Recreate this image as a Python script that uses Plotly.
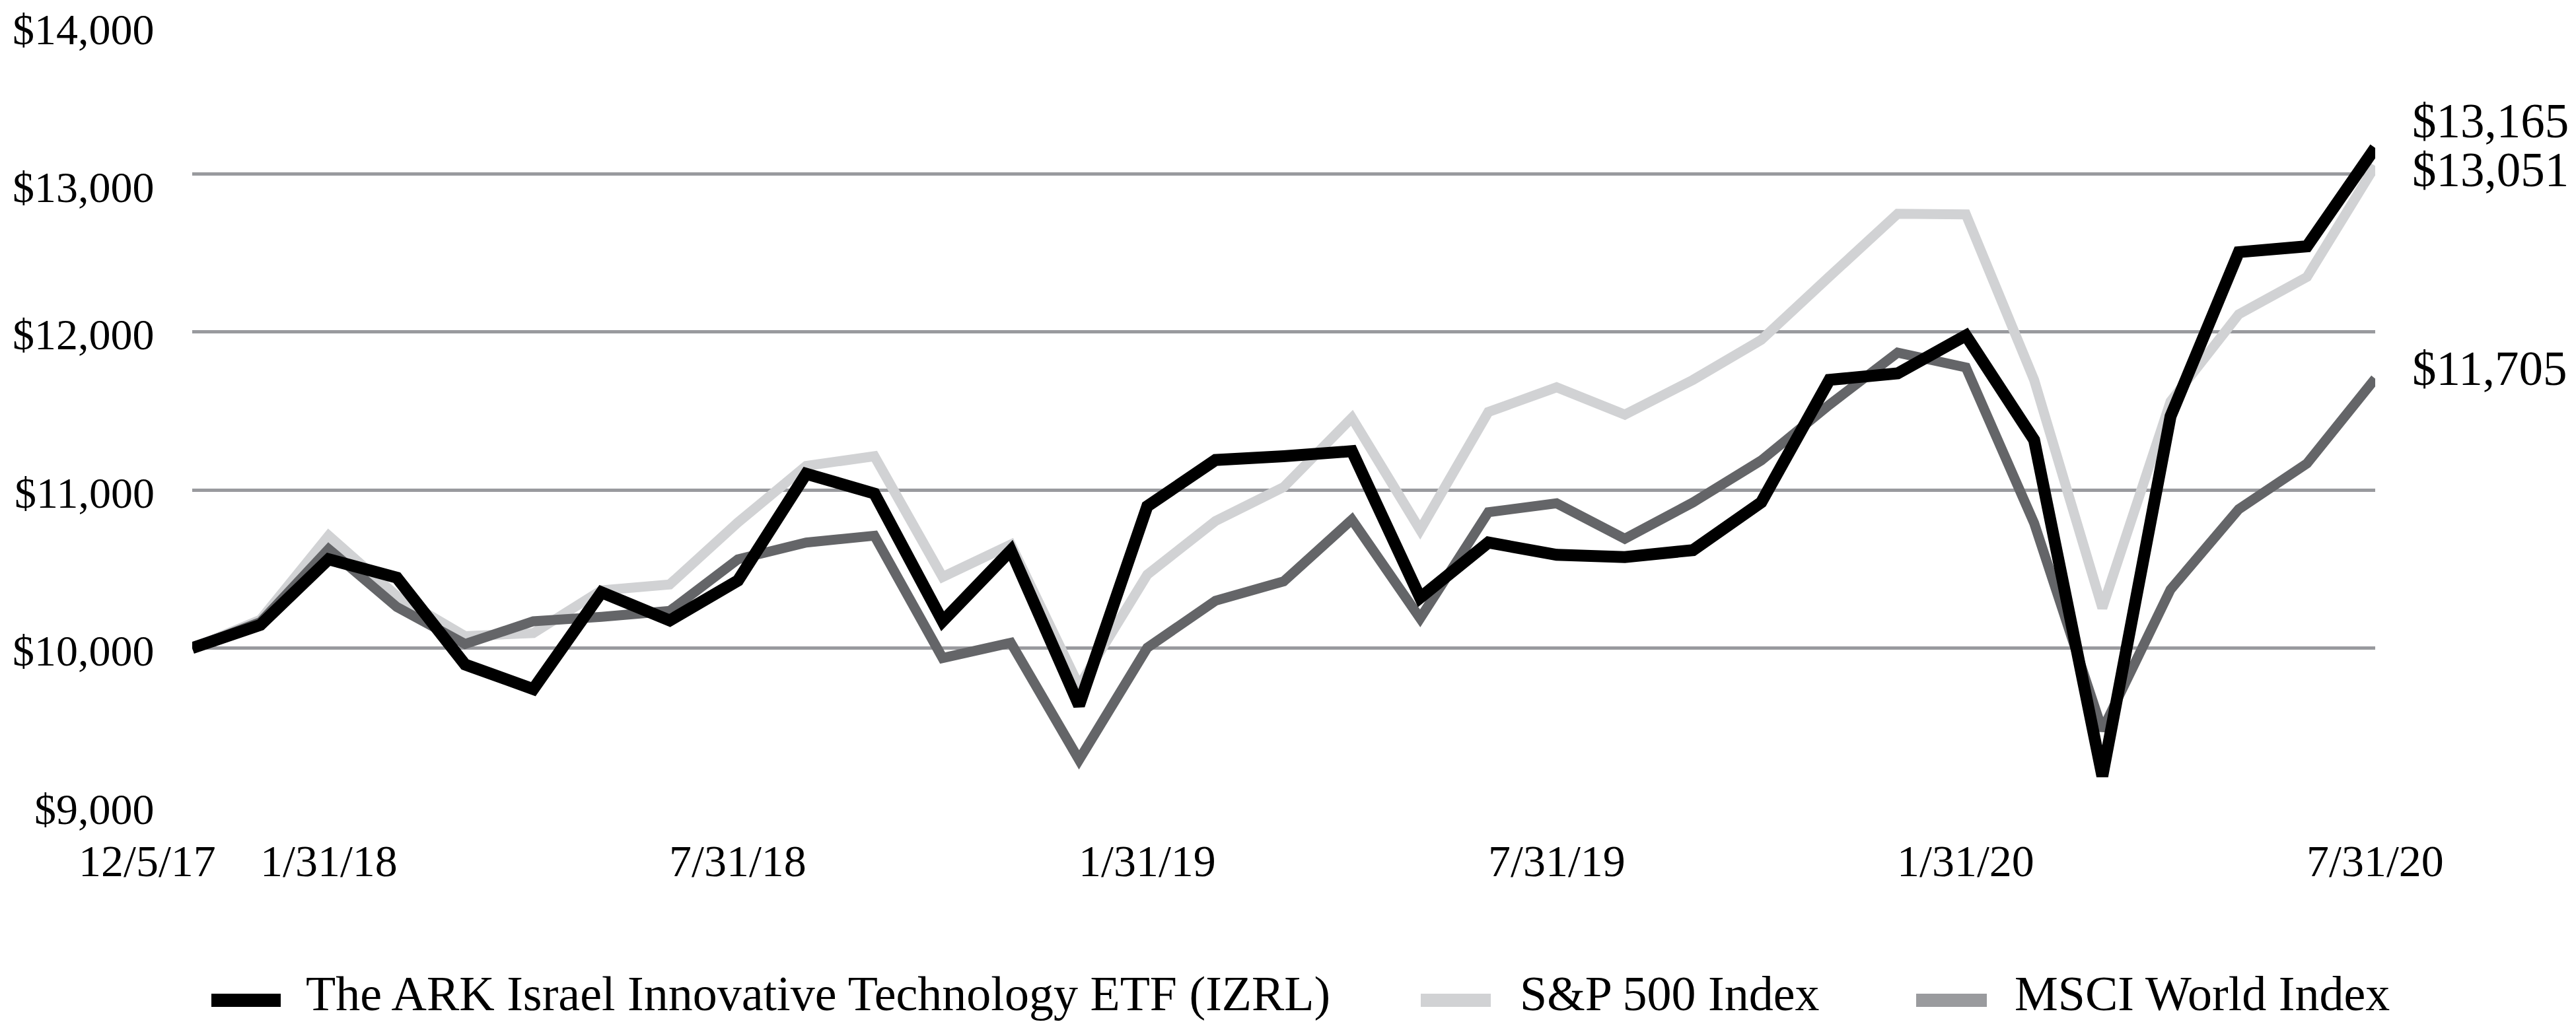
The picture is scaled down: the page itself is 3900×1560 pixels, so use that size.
import plotly.graph_objects as go

# ---------------- data ----------------
dates = ["12/5/17", "12/31/17", "1/31/18", "2/28/18", "3/31/18", "4/30/18", "5/31/18",
         "6/30/18", "7/31/18", "8/31/18", "9/30/18", "10/31/18", "11/30/18", "12/31/18",
         "1/31/19", "2/28/19", "3/31/19", "4/30/19", "5/31/19", "6/30/19", "7/31/19",
         "8/31/19", "9/30/19", "10/31/19", "11/30/19", "12/31/19", "1/31/20", "2/29/20",
         "3/31/20", "4/30/20", "5/31/20", "6/30/20", "7/31/20"]

izrl = [10000, 10147, 10562, 10446, 9896, 9741, 10353, 10175, 10427, 11103, 10978,
        10170, 10618, 9638, 10897, 11190, 11214, 11246, 10319, 10668, 10590, 10576,
        10620, 10922, 11697, 11738, 11978, 11317, 9190, 11466, 12505, 12542, 13165]

sp500 = [10000, 10179, 10711, 10330, 10076, 10095, 10366, 10403, 10795, 11153, 11214,
         10450, 10655, 9760, 10465, 10804, 11019, 11457, 10748, 11494, 11650, 11477,
         11697, 11950, 12351, 12748, 12744, 11697, 10254, 11560, 12112, 12348, 13051]

msci = [10000, 10164, 10627, 10260, 10026, 10170, 10198, 10235, 10562, 10668, 10711,
        9937, 10034, 9293, 10002, 10300, 10422, 10813, 10188, 10860, 10916, 10692,
        10922, 11187, 11540, 11869, 11776, 10791, 9480, 10371, 10879, 11168, 11705]

series_names = ["The ARK Israel Innovative Technology ETF (IZRL)", "S&P 500 Index", "MSCI World Index"]
x_tick_labels = ["12/5/17", "1/31/18", "7/31/18", "1/31/19", "7/31/19", "1/31/20", "7/31/20"]
y_tick_vals = [9000, 10000, 11000, 12000, 13000, 14000]
y_tick_text = ["$9,000", "$10,000", "$11,000", "$12,000", "$13,000", "$14,000"]
end_labels = ["$13,165", "$13,051", "$11,705"]

# ---------------- style ----------------
W, H = 3900, 1560
ML, MR, MT, MB = 283, 312, 16, 347
FONT = "Liberation Serif"
C_IZRL, C_SP, C_MSCI = "#000000", "#d1d2d4", "#646568"
C_MSCI_LEG = "#9a9b9e"
GRID = "#999a9e"

PW = W - ML - MR
PH = H - MT - MB


def px_x(px):
    return (px - ML) / PW


def px_y(py):
    return (H - MB - py) / PH


fig = go.Figure()
fig.add_trace(go.Scatter(x=dates, y=sp500, mode="lines", name=series_names[1],
                         line=dict(color=C_SP, width=15), showlegend=False))
fig.add_trace(go.Scatter(x=dates, y=msci, mode="lines", name=series_names[2],
                         line=dict(color=C_MSCI, width=15), showlegend=False))
fig.add_trace(go.Scatter(x=dates, y=izrl, mode="lines", name=series_names[0],
                         line=dict(color=C_IZRL, width=18), showlegend=False))

annotations = []
# y tick labels
for v, t in zip(y_tick_vals, y_tick_text):
    shift = -20 if v >= 13000 else -4
    annotations.append(dict(x=0, xref="paper", y=v, yref="y", text=t, showarrow=False,
                            xanchor="right", yanchor="middle", xshift=-55, yshift=shift,
                            font=dict(family=FONT, size=66, color="#000")))
# x tick labels
for t in x_tick_labels:
    xs = -68 if t == "12/5/17" else 0
    annotations.append(dict(x=t, xref="x", y=0, yref="paper", text=t, showarrow=False,
                            xanchor="center", yanchor="middle", xshift=xs, yshift=-83,
                            font=dict(family=FONT, size=68, color="#000")))
# end labels
end_vals = [izrl[-1], sp500[-1], msci[-1]]
end_shift = [40, -6, 15]
for t, v, s in zip(end_labels, end_vals, end_shift):
    annotations.append(dict(x=dates[-1], xref="x", y=v, yref="y", text=t, showarrow=False,
                            xanchor="left", yanchor="middle", xshift=54, yshift=s,
                            font=dict(family=FONT, size=73, color="#000")))

# legend (manual)
shapes = []
leg = [(312, 417, C_IZRL, 453, series_names[0]),
       (2143, 2249, C_SP, 2291, series_names[1]),
       (2893, 3000, C_MSCI_LEG, 3040, series_names[2])]
for x0, x1, col, tx, name in leg:
    shapes.append(dict(type="rect", xref="paper", yref="paper", x0=px_x(x0), x1=px_x(x1),
                       y0=px_y(1517), y1=px_y(1497), fillcolor=col, line=dict(width=0),
                       layer="above"))
    annotations.append(dict(x=px_x(tx), xref="paper", y=px_y(1497), yref="paper", text=name,
                            showarrow=False, xanchor="left", yanchor="middle",
                            font=dict(family=FONT, size=74, color="#000")))

fig.update_layout(
    width=W, height=H,
    margin=dict(l=ML, r=MR, t=MT, b=MB, pad=0),
    paper_bgcolor="white", plot_bgcolor="white",
    showlegend=False,
    xaxis=dict(type="category", range=[0, len(dates) - 1], showgrid=False, zeroline=False,
               showline=False, showticklabels=False, ticks=""),
    yaxis=dict(range=[9000, 14000], tickvals=y_tick_vals, showticklabels=False, ticks="",
               showgrid=True, gridcolor=GRID, gridwidth=5, zeroline=False, showline=False),
    annotations=annotations,
    shapes=shapes,
)

fig.write_html("out.html")
